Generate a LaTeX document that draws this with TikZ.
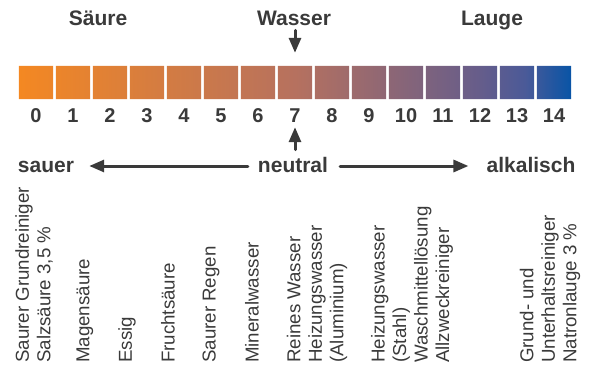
\documentclass[tikz,border=0pt]{standalone}
\usepackage{fontspec}
\setmainfont{Liberation Sans}
\usetikzlibrary{arrows.meta}

\definecolor{testo}{RGB}{58,58,58}
\definecolor{phA}{RGB}{244,136,34}
\definecolor{phM}{RGB}{182,113,95}
\definecolor{phP}{RGB}{103,93,138}
\definecolor{phQ}{RGB}{75,90,152}
\definecolor{phB}{RGB}{8,84,166}
\pgfdeclarehorizontalshading{scalaph}{100bp}{color(0bp)=(phA); color(25bp)=(phA); color(50bp)=(phM); color(66.5bp)=(phP); color(70.8bp)=(phQ); color(75bp)=(phB); color(100bp)=(phB)}

\begin{document}
\begin{tikzpicture}[
    x=1pt, y=-1pt,
    line cap=round,
    line join=round,
    every node/.style={text=testo, inner sep=0pt},
    casella/.style={minimum width=34pt, minimum height=33pt},
    titolo/.style={font=\bfseries\fontsize{21}{24}\selectfont, anchor=base},
    cifra/.style={font=\bfseries\fontsize{20}{24}\selectfont, anchor=base},
    voce/.style={font=\fontsize{18.7}{21.5}\selectfont, rotate=90, anchor=west, align=left},
    freccia/.style={draw=testo, line width=3pt, -{Triangle[length=15pt, width=12pt]}}
]

\useasboundingbox (0,0) rectangle (602,383);

% Caselle della scala
\foreach \i in {0,...,14}
    \node[casella] (b\i) at (36+37*\i, 82.5) {};

\begin{scope}
    \clip \foreach \i in {0,...,14} {(b\i.north west) rectangle (b\i.south east)};
    \shade[shading=scalaph] (b0.north west) rectangle (b14.south east);
\end{scope}

% Valori pH
\foreach \i in {0,...,14}
    \node[cifra] (n\i) at (b\i.center |- 0,122) {\i};

% Etichette in alto
\node[titolo] (acido) at (98,25) {Säure};
\node[titolo] (acqua) at (294,25) {Wasser};
\node[titolo] (base) at (492,25) {Lauge};

\draw[freccia, shorten <=5pt, shorten >=13pt] (acqua.south -| b7) -- (b7.north);

% Riga centrale
\node[titolo] (sauer) at (46,172) {sauer};
\node[titolo] (neutral) at (293,172) {neutral};
\node[titolo] (alkal) at (531,172) {alkalisch};

\coordinate (asse) at (0,166);
\draw[freccia, shorten <=10pt, shorten >=15pt] (neutral.west |- asse) -- (sauer.east |- asse);
\draw[freccia, shorten <=12pt, shorten >=18pt] (neutral.east |- asse) -- (alkal.west |- asse);
\draw[freccia, shorten <=7pt, shorten >=5pt] (n7.south |- neutral.north) -- (n7.south);

% Esempi
\node[voce] (v0) at (34,363) {Saurer Grundreiniger\\Salzsäure 3,5~\%};
\node[voce] (v1) at (85,363) {Magensäure};
\node[voce] (v2) at (127,363) {Essig};
\node[voce] (v3) at (168,363) {Fruchtsäure};
\node[voce] (v4) at (211,363) {Saurer Regen};
\node[voce] (v5) at (252,363) {Mineralwasser};
\node[voce] (v6) at (317,363) {Reines Wasser\\Heizungswasser\\(Aluminium)};
\node[voce] (v7) at (412,363) {Heizungswasser\\(Stahl)\\Waschmittellösung\\Allzweckreiniger};
\node[voce] (v8) at (550,363) {Grund- und\\Unterhaltsreiniger\\Natronlauge 3~\%};

\end{tikzpicture}
\end{document}
